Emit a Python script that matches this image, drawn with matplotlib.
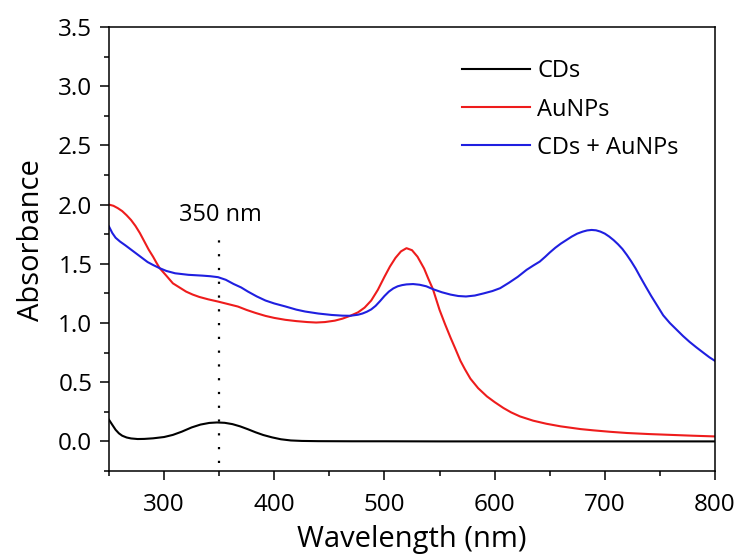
"""UV-vis absorbance spectra of CDs, AuNPs and the CDs + AuNPs mixture."""
import matplotlib
matplotlib.use('Agg')
import matplotlib.pyplot as plt
from matplotlib.ticker import MultipleLocator, FormatStrFormatter

# ---------------------------------------------------------------------------
# Data
# ---------------------------------------------------------------------------
cds_wl = [250, 253, 256, 259, 262, 266, 270, 276, 282, 290, 300, 308, 316, 325,
          333, 341, 348, 355, 362, 369, 376, 383, 390, 398, 406, 415, 425, 440,
          470, 500, 550, 600, 700, 800]
cds_abs = [0.183, 0.14, 0.098, 0.068, 0.048, 0.033, 0.025, 0.02, 0.021, 0.026,
           0.037, 0.055, 0.082, 0.118, 0.142, 0.156, 0.16, 0.157, 0.146, 0.127,
           0.103, 0.077, 0.054, 0.034, 0.018, 0.008, 0.004, 0.002, 0.001, 0.001,
           0.0, 0.0, 0.0, 0.0]

aunp_wl = [250, 254, 258, 262, 266, 270, 274, 278, 282, 286, 290, 293, 296, 302,
           308, 314, 320, 326, 332, 340, 349, 358, 367, 375, 383, 392, 400, 410,
           420, 430, 438, 446, 455, 462, 469, 476, 482, 488, 494, 500, 505, 510,
           515, 520, 525, 530, 536, 540, 544, 550, 555, 560, 564, 569, 573, 578,
           585, 593, 600, 608, 615, 623, 635, 647, 660, 678, 690, 705, 720, 740,
           760, 780, 800]
aunp_abs = [2.0, 1.99, 1.97, 1.945, 1.91, 1.87, 1.82, 1.76, 1.69, 1.62, 1.56,
            1.51, 1.463, 1.4, 1.335, 1.3, 1.265, 1.24, 1.22, 1.2, 1.181, 1.16,
            1.139, 1.11, 1.085, 1.06, 1.043, 1.027, 1.016, 1.008, 1.004, 1.008,
            1.02, 1.037, 1.061, 1.09, 1.13, 1.19, 1.28, 1.39, 1.477, 1.55,
            1.605, 1.632, 1.615, 1.56, 1.46, 1.37, 1.286, 1.111, 0.99, 0.876,
            0.79, 0.68, 0.61, 0.53, 0.45, 0.38, 0.332, 0.282, 0.245, 0.211,
            0.175, 0.149, 0.127, 0.104, 0.093, 0.081, 0.071, 0.062, 0.055,
            0.048, 0.042]

mix_wl = [250, 253, 256, 260, 265, 270, 275, 280, 285, 290, 296, 302, 310, 322,
          335, 342, 349, 356, 363, 370, 376, 384, 392, 400, 410, 420, 428, 440,
          452, 462, 469, 476, 480, 484, 488, 492, 496, 500, 504, 508, 512, 516,
          520, 526, 532, 538, 544, 552, 560, 567, 574, 582, 590, 598, 605, 613,
          621, 629, 635, 641, 646, 650, 655, 660, 665, 670, 675, 680, 684, 688,
          692, 696, 700, 704, 708, 712, 716, 720, 724, 728, 732, 737, 742, 747,
          753, 759, 765, 771, 777, 783, 790, 795, 800]
mix_abs = [1.815, 1.76, 1.72, 1.688, 1.655, 1.62, 1.585, 1.55, 1.515, 1.49,
           1.463, 1.44, 1.42, 1.407, 1.4, 1.395, 1.387, 1.365, 1.33, 1.3, 1.266,
           1.225, 1.19, 1.165, 1.14, 1.113, 1.097, 1.08, 1.068, 1.062, 1.061,
           1.07, 1.08, 1.095, 1.115, 1.145, 1.185, 1.228, 1.265, 1.292, 1.31,
           1.32, 1.326, 1.329, 1.323, 1.31, 1.286, 1.26, 1.24, 1.228, 1.224,
           1.232, 1.25, 1.27, 1.294, 1.34, 1.39, 1.449, 1.485, 1.519, 1.56,
           1.595, 1.635, 1.67, 1.7, 1.73, 1.755, 1.772, 1.782, 1.786, 1.783,
           1.772, 1.755, 1.73, 1.7, 1.665, 1.625, 1.575, 1.52, 1.46, 1.392,
           1.31, 1.23, 1.155, 1.065, 1.0, 0.945, 0.89, 0.84, 0.795, 0.745,
           0.71, 0.68]

marker_wl = 350
marker_text = '350 nm'

# ---------------------------------------------------------------------------
# Style
# ---------------------------------------------------------------------------
plt.rcParams.update({
    'font.family': ['Open Sans', 'DejaVu Sans'],
    'axes.linewidth': 1.1,
})


def main():
    fig = plt.figure(figsize=(7.43, 5.57), dpi=100)
    ax = fig.add_axes([0.1467, 0.1544, 0.8156, 0.7971])

    ax.plot(cds_wl, cds_abs, color='black', lw=1.5, label='CDs')
    ax.plot(aunp_wl, aunp_abs, color='#ee1c1c', lw=1.5, label='AuNPs')
    ax.plot(mix_wl, mix_abs, color='#1f1fe0', lw=1.5, label='CDs + AuNPs')

    ax.vlines(marker_wl, -0.18, 1.73, colors='black', lw=1.6,
              linestyles=(0, (1, 5.2)))
    ax.text(marker_wl + 1, 1.91, marker_text, ha='center', va='center',
            fontsize=17)

    ax.set_xlim(250, 800)
    ax.set_ylim(-0.25, 3.5)
    ax.xaxis.set_major_locator(MultipleLocator(100))
    ax.xaxis.set_minor_locator(MultipleLocator(50))
    ax.yaxis.set_major_locator(MultipleLocator(0.5))
    ax.yaxis.set_minor_locator(MultipleLocator(0.25))
    ax.yaxis.set_major_formatter(FormatStrFormatter('%.1f'))
    ax.tick_params(which='major', direction='out', length=6.5, width=1.1,
                   labelsize=17.5)
    ax.tick_params(axis='x', which='major', pad=9)
    ax.tick_params(axis='y', which='major', pad=5.5)
    ax.tick_params(which='minor', direction='out', length=3.8, width=1.1)

    ax.set_xlabel('Wavelength (nm)', fontsize=21, labelpad=6)
    ax.set_ylabel('Absorbance', fontsize=21)
    ax.yaxis.set_label_coords(-0.104, 0.52)

    ax.legend(loc='upper left', bbox_to_anchor=(0.582, 0.927), frameon=False,
              fontsize=17, handlelength=2.9, handletextpad=0.3,
              labelspacing=0.6, borderpad=0, borderaxespad=0)

    fig.savefig('out.png', dpi=100)
    plt.close(fig)


if __name__ == '__main__':
    main()
